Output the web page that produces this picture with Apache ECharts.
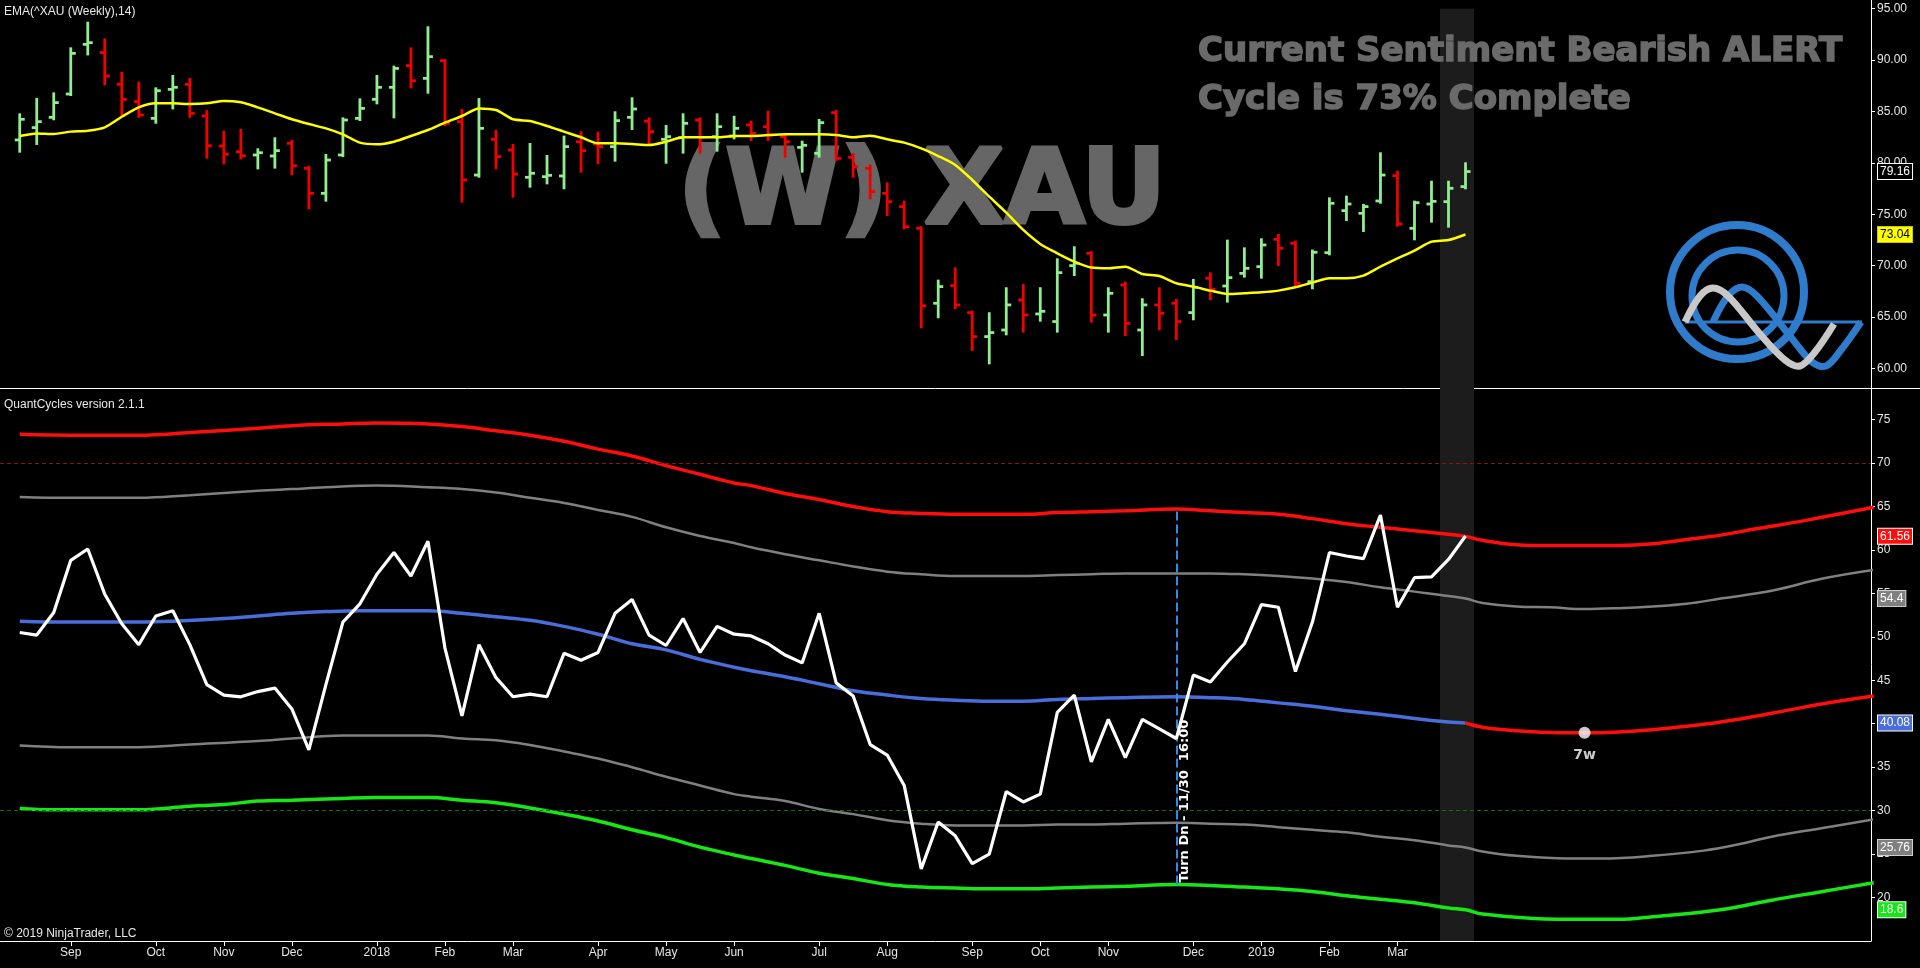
<!DOCTYPE html>
<html><head><meta charset="utf-8">
<script src="https://cdn.jsdelivr.net/npm/echarts@6/dist/echarts.min.js"></script>
<style>html,body{margin:0;padding:0;background:#000;}#c{width:1920px;height:968px;}</style>
</head><body><div id="c"></div>
<script>
// ---------- DATA (weekly bars, index 0 = Aug 11 2017, 85 = Mar 29 2019) ----------
const barOpen = [82.23,83.43,84.43,86.70,91.53,90.72,87.64,85.95,84.33,87.15,87.64,84.56,81.64,81.09,80.77,80.67,81.90,79.47,77.04,80.77,84.33,86.18,87.35,89.45,88.22,89.94,84.01,78.82,82.29,81.25,78.60,78.66,78.73,82.06,81.84,81.58,84.43,84.07,82.29,82.45,84.17,82.55,82.61,83.68,83.52,82.55,81.51,80.93,84.89,80.54,79.47,77.04,75.75,73.64,66.35,68.06,65.44,63.11,63.75,66.67,65.31,64.57,70.01,71.21,65.21,68.13,63.75,66.19,66.35,65.44,68.78,68.03,69.26,69.91,72.57,72.18,68.45,71.27,75.36,75.10,76.30,78.76,73.64,76.00,76.23,77.69];
const barHigh = [84.72,86.21,86.76,91.14,93.63,92.01,88.77,87.80,87.25,88.45,88.16,85.05,83.04,83.20,81.32,82.39,82.13,79.63,80.77,84.33,86.18,88.45,89.36,91.14,93.18,90.00,85.14,86.21,83.10,81.74,81.84,80.67,82.55,82.97,82.94,84.92,86.28,84.33,83.59,84.72,84.33,84.72,84.49,84.01,84.98,82.71,82.06,84.17,85.05,80.86,79.73,78.01,76.23,73.74,68.55,69.75,65.54,65.38,67.81,68.13,67.81,70.62,71.79,71.31,67.81,68.36,66.74,67.81,66.67,68.62,69.26,72.44,71.69,72.57,72.99,72.34,71.47,76.55,76.72,75.91,80.93,79.15,76.23,78.17,78.17,79.96];
const barLow = [81.09,81.84,84.24,86.60,90.55,87.64,84.49,84.49,83.91,85.30,84.49,80.51,79.96,80.44,79.47,79.54,78.89,75.58,76.33,80.67,84.17,85.79,84.43,87.35,86.83,83.68,76.23,78.66,79.47,76.72,77.69,78.01,77.53,79.15,79.96,80.22,83.30,81.90,80.02,81.00,81.00,81.19,82.39,82.23,82.23,80.61,79.15,80.61,80.28,78.66,76.55,74.93,73.64,64.01,64.99,65.86,61.81,60.51,63.33,63.59,64.66,63.59,69.10,64.57,63.59,63.27,61.32,63.82,62.85,64.79,66.74,66.51,68.94,68.84,70.07,68.03,67.81,71.11,74.45,73.38,76.13,73.90,72.57,74.29,73.80,77.53];
const barClose = [84.24,84.01,85.86,90.65,91.69,88.45,86.18,84.66,87.02,87.35,84.82,81.67,80.84,80.70,80.99,81.19,79.73,77.04,80.28,84.17,85.30,87.35,89.19,87.99,90.33,83.85,78.34,83.36,80.61,78.92,78.99,78.79,81.58,81.19,81.58,84.11,85.24,83.04,82.55,83.85,82.49,83.52,83.36,82.87,82.71,82.06,81.71,83.91,80.44,79.63,77.20,76.23,73.80,66.09,67.97,66.19,63.11,63.50,66.19,65.21,65.57,69.33,70.24,65.21,67.32,64.40,66.19,65.37,64.57,67.90,67.71,68.84,69.75,72.02,71.69,68.29,71.31,76.07,76.00,75.75,78.82,74.06,76.13,76.26,77.53,79.16];
const emaValues = [82.61,82.87,82.81,83.04,83.13,83.46,84.49,85.40,85.79,85.79,85.73,85.79,86.02,85.89,85.40,84.82,84.24,83.78,83.36,82.78,81.97,81.81,82.06,82.61,83.20,83.91,84.56,85.30,85.14,84.24,84.07,83.59,83.04,82.49,81.90,81.90,81.84,81.74,82.06,82.49,82.49,82.49,82.61,82.61,82.71,82.78,82.78,82.78,82.71,82.49,82.65,82.29,81.97,81.41,80.67,79.80,78.34,76.72,75.16,73.48,72.12,71.21,70.40,69.82,69.75,69.91,69.20,69.00,68.29,67.97,67.58,67.25,67.32,67.41,67.58,67.90,68.36,68.78,68.78,69.04,69.91,70.72,71.47,72.34,72.50,73.04];
const oscValues = [50.5,50.2,52.8,58.8,60.1,54.9,51.5,49.1,52.4,53.0,49.1,44.5,43.3,43.1,43.7,44.1,41.7,37.0,44.5,51.7,53.8,57.2,59.7,57.0,61.0,48.7,40.9,49.1,45.3,43.1,43.4,43.1,48.1,47.3,48.2,52.7,54.3,50.2,49.0,52.1,48.2,51.2,50.3,50.1,49.2,47.9,47.0,52.7,44.7,43.2,37.6,36.4,32.9,23.3,28.7,27.1,23.9,25.0,32.2,31.0,31.9,41.3,43.3,35.6,40.5,36.1,40.5,39.4,38.3,45.6,44.8,47.1,49.2,53.7,53.4,46.0,51.7,59.7,59.3,59.0,64.0,53.4,56.8,56.9,58.9,61.6];

// band curves read as [weekIndex, value]
const bandRedUpper = [[0,73.3],[3,73.2],[7,73.2],[10,73.5],[14,74.0],[16,74.3],[19,74.5],[21,74.6],[24,74.5],[26,74.2],[28,73.7],[30,73.2],[32,72.5],[34,71.6],[36,70.8],[38,69.7],[40,68.7],[42,67.7],[43,67.4],[45,66.5],[47,65.8],[49,65.0],[51,64.4],[53,64.2],[55,64.1],[57,64.1],[59,64.1],[61,64.3],[63,64.4],[65,64.5],[68,64.7],[70,64.5],[72,64.3],[74,64.1],[76,63.6],[78,63.0],[80,62.6],[82,62.2],[84,61.8],[85,61.56],[86,61.1],[88,60.6],[90,60.5],[92,60.5],[94,60.5],[96,60.7],[98,61.2],[100,61.7],[102,62.4],[105,63.4],[109,64.9]];
const bandGrayUpper = [[0,66.1],[3,66.0],[7,66.0],[10,66.3],[14,66.8],[16,67.0],[18,67.2],[21,67.4],[24,67.2],[26,67.0],[28,66.6],[30,66.0],[32,65.4],[34,64.6],[36,63.8],[38,62.6],[40,61.6],[42,60.8],[43,60.3],[45,59.5],[47,58.8],[49,58.1],[51,57.5],[53,57.2],[55,57.0],[57,57.0],[59,57.0],[61,57.1],[63,57.2],[65,57.3],[68,57.3],[70,57.3],[72,57.2],[74,57.0],[76,56.7],[78,56.3],[80,55.7],[82,55.2],[84,54.7],[85,54.4],[86,53.9],[88,53.5],[90,53.4],[92,53.2],[94,53.3],[96,53.5],[98,53.8],[100,54.4],[103,55.3],[106,56.7],[109,57.7]];
const bandMidHist = [[0,51.8],[3,51.7],[7,51.7],[9,51.8],[12,52.1],[14,52.4],[16,52.7],[18,52.9],[20,53.0],[24,53.0],[26,52.7],[28,52.3],[30,51.9],[32,51.2],[34,50.3],[36,49.2],[38,48.5],[40,47.4],[42,46.5],[43,46.1],[45,45.4],[47,44.6],[49,43.8],[51,43.3],[53,42.9],[55,42.7],[57,42.6],[59,42.6],[61,42.8],[63,42.9],[65,43.0],[68,43.1],[70,43.0],[72,42.8],[74,42.4],[76,42.0],[78,41.5],[80,41.1],[82,40.6],[84,40.2],[85,40.08]];
const bandMidProj = [[85,40.08],[86,39.6],[88,39.2],[90,39.0],[92,38.95],[94,39.05],[96,39.3],[98,39.7],[100,40.2],[103,41.2],[106,42.3],[109,43.2]];
const bandGrayLower = [[0,37.5],[3,37.3],[7,37.3],[10,37.6],[14,38.0],[16,38.3],[19,38.65],[24,38.65],[26,38.3],[28,38.1],[30,37.55],[32,36.8],[34,36.0],[36,35.0],[38,33.9],[40,32.9],[42,31.9],[43,31.6],[45,31.1],[47,30.2],[49,29.6],[51,28.9],[53,28.5],[55,28.3],[57,28.3],[59,28.3],[61,28.4],[63,28.4],[65,28.5],[68,28.6],[70,28.5],[72,28.4],[74,28.1],[76,27.8],[78,27.5],[80,27.0],[82,26.6],[84,26.0],[85,25.76],[86,25.3],[88,24.8],[91,24.5],[93,24.5],[96,24.8],[99,25.4],[101,26.1],[103,27.0],[106,28.0],[109,29.0]];
const bandGreenLower = [[0,30.25],[2,30.1],[7,30.1],[10,30.5],[12,30.7],[14,31.1],[16,31.2],[19,31.4],[21,31.5],[24,31.5],[26,31.2],[28,30.9],[30,30.3],[32,29.6],[34,28.8],[36,27.8],[38,26.9],[40,25.8],[42,24.9],[43,24.5],[45,23.7],[47,22.8],[49,22.2],[51,21.5],[53,21.2],[55,21.1],[57,21.0],[59,21.0],[61,21.1],[63,21.2],[65,21.3],[68,21.5],[70,21.4],[72,21.2],[74,21.0],[76,20.7],[78,20.2],[80,19.8],[82,19.4],[84,18.8],[85,18.6],[86,18.1],[89,17.6],[92,17.5],[94,17.5],[96,17.8],[100,18.6],[103,19.7],[106,20.7],[109,21.7]];

const monthTickIdx = [3,8,12,16,21,25,29,34,38,42,47,51,56,60,64,69,73,77,81];
const monthTickLabels = ['Sep','Oct','Nov','Dec','2018','Feb','Mar','Apr','May','Jun','Jul','Aug','Sep','Oct','Nov','Dec','2019','Feb','Mar'];
const priceTicks = [60,65,70,75,80,85,90,95];
const oscTicks = [20,25,30,35,40,45,50,55,60,65,70,75];
const priceBadges = [79.16, 73.04];
const oscBadges = [61.56, 54.4, 40.08, 25.76, 18.6];
const levelLines = [70, 30];
const turnWeek = 68, turnTop = 64.7, turnBottom = 21.5;
const cycleLow = [92, 38.95];
const highlightWeeks = [84, 85];
const xMin = -1.16, xMax = 108.84;

// ---------- CHART ----------
const chart = echarts.init(document.getElementById('c'));
const ohlc = barOpen.map((o, i) => [i, o, barHigh[i], barLow[i], barClose[i]]);
const F = 'Liberation Sans, Arial, sans-serif';
const B = 'DejaVu Sans, sans-serif';
const clear = 'rgba(0,0,0,0)';
function badge(v, bg, fg, border) {
  return { yAxis: v, lineStyle: { color: clear, width: 0 },
    label: { show: true, position: 'end', distance: 7, formatter: String(v),
      backgroundColor: bg, color: fg, borderColor: border, borderWidth: 1, padding: [2, 2, 1, 2],
      fontSize: 12, fontFamily: F } };
}
const noLine = { color: clear, width: 0 };

const option = {
  backgroundColor: '#000',
  animation: false,
  grid: [
    { left: 0, right: 49, top: 0, height: 388 },
    { left: 0, right: 49, top: 388, height: 553 }
  ],
  xAxis: [
    { gridIndex: 0, type: 'value', min: xMin, max: xMax,
      axisLine: { show: true, onZero: false, lineStyle: { color: '#ffffff', width: 1 } },
      axisTick: { show: false }, axisLabel: { show: false }, splitLine: { show: false } },
    { gridIndex: 1, type: 'value', min: xMin, max: xMax,
      axisLine: { show: true, onZero: false, lineStyle: { color: '#ffffff', width: 1 } },
      axisTick: { show: true, customValues: monthTickIdx, length: 5, lineStyle: { color: '#ffffff' } },
      axisLabel: { show: true, customValues: monthTickIdx, color: '#e6e6e6', fontSize: 12, fontFamily: F, margin: 6,
        formatter: v => { const k = monthTickIdx.indexOf(Math.round(v)); return k >= 0 ? monthTickLabels[k] : ''; } },
      splitLine: { show: false } }
  ],
  yAxis: [
    { gridIndex: 0, type: 'value', position: 'right', min: 58.11, max: 95.84,
      axisLine: { show: true, onZero: false, lineStyle: { color: '#ffffff' } },
      axisTick: { show: true, customValues: priceTicks, length: 4, lineStyle: { color: '#ffffff' } },
      axisLabel: { show: true, customValues: priceTicks, color: '#e6e6e6', fontSize: 12, fontFamily: F, margin: 6,
        formatter: v => v.toFixed(2) },
      splitLine: { show: false } },
    { gridIndex: 1, type: 'value', position: 'right', min: 15.0, max: 78.63,
      axisLine: { show: true, onZero: false, lineStyle: { color: '#ffffff' } },
      axisTick: { show: true, customValues: oscTicks, length: 4, lineStyle: { color: '#ffffff' } },
      axisLabel: { show: true, customValues: oscTicks, color: '#e6e6e6', fontSize: 12, fontFamily: F, margin: 6,
        formatter: v => String(v) },
      splitLine: { show: false } }
  ],
  graphic: {
    elements: [
      { type: 'line', z: 2, shape: { x1: 1871, y1: 388.5, x2: 1920, y2: 388.5 }, style: { stroke: '#ffffff', lineWidth: 1 } },
      { type: 'text', z: 2, x: 4, y: 6, style: { text: 'EMA(^XAU (Weekly),14)', fill: '#e8e8e8', font: '12px ' + F } },
      { type: 'text', z: 2, x: 4, y: 399, style: { text: 'QuantCycles version 2.1.1', fill: '#e8e8e8', font: '12px ' + F } },
      { type: 'text', z: 2, x: 4, y: 928, style: { text: '\u00a9 2019 NinjaTrader, LLC', fill: '#e8e8e8', font: '12px ' + F } },
      { type: 'text', z: 2, x: 678, y: 196, style: { text: '(W) XAU', fill: '#666666', stroke: '#666666', lineWidth: 4, font: 'bold 104px ' + B, verticalAlign: 'middle' } },
      { type: 'text', z: 2, x: 1198, y: 52, style: { text: 'Current Sentiment Bearish ALERT', fill: '#6a6a6a', stroke: '#6a6a6a', lineWidth: 1.6, font: 'bold 34px ' + B, verticalAlign: 'middle' } },
      { type: 'text', z: 2, x: 1198, y: 100, style: { text: 'Cycle is 73% Complete', fill: '#6a6a6a', stroke: '#6a6a6a', lineWidth: 1.6, font: 'bold 34px ' + B, verticalAlign: 'middle' } },
      // logo
      { type: 'circle', z: 2, shape: { cx: 1737, cy: 292, r: 67 }, style: { fill: 'none', stroke: '#2f7ccc', lineWidth: 8 } },
      { type: 'circle', z: 2, shape: { cx: 1738, cy: 296, r: 46 }, style: { fill: 'none', stroke: '#2f7ccc', lineWidth: 7 } },
      { type: 'line', z: 2, shape: { x1: 1685, y1: 322, x2: 1862, y2: 322 }, style: { stroke: '#2f7ccc', lineWidth: 3 } },
      { type: 'polyline', z: 2, shape: { points: [[1713,322],[1728,296],[1742,287],[1757,296],[1790,336],[1812,362],[1826,366],[1841,350],[1861,322]], smooth: 0.35 }, style: { fill: 'none', stroke: '#2f7ccc', lineWidth: 7 } },
      { type: 'polyline', z: 2, shape: { points: [[1685,322],[1700,296],[1713,288],[1728,296],[1760,334],[1785,360],[1800,366],[1815,352],[1834,324]], smooth: 0.35 }, style: { fill: 'none', stroke: '#c8c8c8', lineWidth: 7 } }
    ]
  },
  series: [
    // shaded current-bar column, top panel
    { type: 'line', xAxisIndex: 0, yAxisIndex: 0, z: 0, data: [[highlightWeeks[0], 95]], symbol: 'none', lineStyle: noLine,
      markArea: { silent: true, z: 1, itemStyle: { color: '#1c1c1c' },
        data: [[{ xAxis: highlightWeeks[0] - 0.5, yAxis: 95 }, { xAxis: highlightWeeks[1] + 0.5, yAxis: 58.11 }]] } },
    // shaded column, bottom panel
    { type: 'line', xAxisIndex: 1, yAxisIndex: 1, z: 0, data: [[highlightWeeks[0], 50]], symbol: 'none', lineStyle: noLine,
      markArea: { silent: true, z: 1, itemStyle: { color: '#1c1c1c' },
        data: [[{ xAxis: highlightWeeks[0] - 0.5, yAxis: 78.63 }, { xAxis: highlightWeeks[1] + 0.5, yAxis: 15.0 }]] } },
    // OHLC bars
    { type: 'custom', xAxisIndex: 0, yAxisIndex: 0, z: 3, data: ohlc,
      encode: { x: 0, y: [1, 2, 3, 4] },
      renderItem: function (params, api) {
        const i = api.value(0), o = api.value(1), h = api.value(2), l = api.value(3), c = api.value(4);
        const pH = api.coord([i, h]), pL = api.coord([i, l]), pO = api.coord([i, o]), pC = api.coord([i, c]);
        const col = c >= o ? '#90ee90' : '#f20000';
        const t = 5;
        return { type: 'group', children: [
          { type: 'line', shape: { x1: pH[0], y1: pH[1] - 1, x2: pL[0], y2: pL[1] + 1 }, style: { stroke: col, lineWidth: 2.8 } },
          { type: 'line', shape: { x1: pO[0] - t, y1: pO[1], x2: pO[0], y2: pO[1] }, style: { stroke: col, lineWidth: 2.8 } },
          { type: 'line', shape: { x1: pC[0], y1: pC[1], x2: pC[0] + t, y2: pC[1] }, style: { stroke: col, lineWidth: 2.8 } }
        ] };
      } },
    // EMA
    { type: 'line', name: 'EMA', xAxisIndex: 0, yAxisIndex: 0, z: 4, data: emaValues.map((v, i) => [i, v]),
      symbol: 'none', smooth: 0.25, lineStyle: { color: '#ffff00', width: 2.5 },
      markLine: { silent: true, symbol: ['none', 'none'],
        data: [ badge(priceBadges[0], '#000000', '#ffffff', '#ffffff'), badge(priceBadges[1], '#ffff00', '#000000', '#c8c800') ] } },
    // level lines 70 / 30
    { type: 'line', xAxisIndex: 1, yAxisIndex: 1, z: 2, data: [[0, 50]], symbol: 'none', lineStyle: noLine,
      markLine: { silent: true, symbol: ['none', 'none'], label: { show: false },
        data: [ { yAxis: levelLines[0], lineStyle: { color: '#8e1414', type: [4, 3], width: 1 } },
                { yAxis: levelLines[1], lineStyle: { color: '#1b6b1b', type: [4, 3], width: 1 } } ] } },
    // bands
    { type: 'line', xAxisIndex: 1, yAxisIndex: 1, z: 3, data: bandGrayUpper, symbol: 'none', smooth: 0.4, lineStyle: { color: '#808080', width: 2.5 },
      markLine: { silent: true, symbol: ['none', 'none'], data: [ badge(oscBadges[1], '#808080', '#ffffff', '#d0d0d0') ] } },
    { type: 'line', xAxisIndex: 1, yAxisIndex: 1, z: 3, data: bandGrayLower, symbol: 'none', smooth: 0.4, lineStyle: { color: '#808080', width: 2.5 },
      markLine: { silent: true, symbol: ['none', 'none'], data: [ badge(oscBadges[3], '#808080', '#ffffff', '#d0d0d0') ] } },
    { type: 'line', xAxisIndex: 1, yAxisIndex: 1, z: 4, data: bandRedUpper, symbol: 'none', smooth: 0.4, lineStyle: { color: '#ff0d0d', width: 3.5 },
      markLine: { silent: true, symbol: ['none', 'none'], data: [ badge(oscBadges[0], '#ff0d0d', '#ffffff', '#ffffff') ] } },
    { type: 'line', xAxisIndex: 1, yAxisIndex: 1, z: 4, data: bandGreenLower, symbol: 'none', smooth: 0.4, lineStyle: { color: '#17e617', width: 3.5 },
      markLine: { silent: true, symbol: ['none', 'none'], data: [ badge(oscBadges[4], '#17e617', '#ffffff', '#ffffff') ] } },
    { type: 'line', xAxisIndex: 1, yAxisIndex: 1, z: 4, data: bandMidHist, symbol: 'none', smooth: 0.4, lineStyle: { color: '#4a6ddc', width: 3.5 },
      markLine: { silent: true, symbol: ['none', 'none'], data: [ badge(oscBadges[2], '#4a6ddc', '#ffffff', '#ffffff') ] } },
    { type: 'line', xAxisIndex: 1, yAxisIndex: 1, z: 4, data: bandMidProj, symbol: 'none', smooth: 0.4, lineStyle: { color: '#ff0d0d', width: 3.5 } },
    // oscillator
    { type: 'line', xAxisIndex: 1, yAxisIndex: 1, z: 6, data: oscValues.map((v, i) => [i, v]), symbol: 'none',
      lineStyle: { color: '#ffffff', width: 3.2 },
      markLine: { silent: true, symbol: ['none', 'none'],
        lineStyle: { color: '#2b8fe6', width: 2, type: [9, 4] },
        label: { show: true, position: 'insideStartBottom', distance: 2, formatter: 'Turn Dn - 11/30  16:00',
          color: '#ffffff', fontWeight: 'bold', fontSize: 13, fontFamily: B },
        data: [[ { coord: [turnWeek, turnBottom] }, { coord: [turnWeek, turnTop] } ]] } },
    // cycle low dot
    { type: 'scatter', xAxisIndex: 1, yAxisIndex: 1, z: 7, data: [cycleLow], symbolSize: 12,
      itemStyle: { color: '#ffffff' },
      label: { show: true, position: 'bottom', distance: 10, formatter: (cycleLow[0] - highlightWeeks[1]) + 'w',
        color: '#ffffff', fontWeight: 'bold', fontSize: 14, fontFamily: B } }
  ]
};
chart.setOption(option);
</script>
</body></html>
